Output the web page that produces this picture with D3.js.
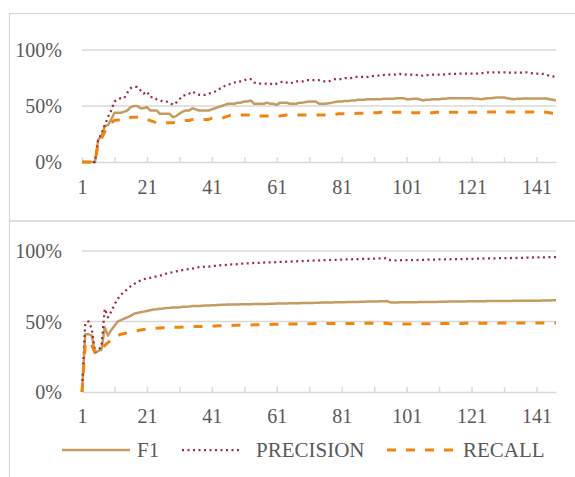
<!DOCTYPE html>
<html>
<head>
<meta charset="utf-8">
<script src="https://cdn.jsdelivr.net/npm/d3@7"></script>
<style>
  body { margin: 0; background: #fff; }
  svg text { font-family: "Liberation Serif", "Times New Roman", serif; }
</style>
</head>
<body>
<svg id="chart" width="575" height="477"></svg>
<script>
/*
Two stacked line charts: F1 / PRECISION / RECALL against rank
*/

// Categories 1..147 on the x axis
var categories = d3.range(1, 148);
var tickMarks = [1, 11, 21, 31, 41, 51, 61, 71, 81, 91, 101, 111, 121, 131, 141];
var tickLabels = [1, 21, 41, 61, 81, 101, 121, 141];
var yTicks = [0, 0.5, 1];
var seriesNames = ["F1", "PRECISION", "RECALL"];

// Top chart
var topF1 = [
  0, 0, 0, 0, 0,
  0.20, 0.23, 0.32, 0.33, 0.38,  0.44, 0.44, 0.44, 0.45, 0.46,
  0.49, 0.50, 0.50, 0.48, 0.48,  0.49, 0.46, 0.46, 0.46, 0.43,
  0.43, 0.43, 0.43, 0.40, 0.41,  0.43, 0.45, 0.46, 0.46, 0.48,
  0.47, 0.46, 0.46, 0.46, 0.46,  0.47, 0.48, 0.49, 0.50, 0.51,
  0.52, 0.52, 0.52, 0.53, 0.53,  0.54, 0.54, 0.55, 0.52, 0.52,
  0.52, 0.52, 0.53, 0.52, 0.52,  0.51, 0.53, 0.53, 0.53, 0.52,
  0.52, 0.52, 0.53, 0.53, 0.535, 0.54, 0.54, 0.54, 0.52, 0.52,
  0.52, 0.525, 0.53, 0.535, 0.54, 0.54, 0.545, 0.545, 0.55, 0.55,
  0.555, 0.555, 0.555, 0.56, 0.56, 0.56, 0.56, 0.56, 0.565, 0.565,
  0.565, 0.565, 0.57, 0.57, 0.57, 0.56, 0.56, 0.565, 0.565, 0.56,
  0.55, 0.555, 0.555, 0.56, 0.56, 0.56, 0.565, 0.565, 0.57, 0.57,
  0.57, 0.57, 0.57, 0.57, 0.57,  0.57, 0.565, 0.565, 0.56, 0.565,
  0.57, 0.57, 0.574, 0.575, 0.575, 0.575, 0.57, 0.565, 0.56, 0.565,
  0.565, 0.567, 0.567, 0.567, 0.567, 0.567, 0.567, 0.567, 0.567, 0.56,
  0.555, 0.55
];
var topPrecision = [
  0, 0, 0, 0, 0,
  0.20, 0.25, 0.33, 0.40, 0.46,  0.54, 0.56, 0.57, 0.57, 0.62,
  0.66, 0.67, 0.67, 0.64, 0.61,  0.63, 0.58, 0.58, 0.56, 0.55,
  0.54, 0.54, 0.53, 0.51, 0.53,  0.56, 0.59, 0.60, 0.61, 0.63,
  0.61, 0.60, 0.60, 0.60, 0.61,  0.62, 0.63, 0.65, 0.66, 0.68,
  0.69, 0.70, 0.71, 0.72, 0.72,  0.73, 0.74, 0.74, 0.71, 0.70,
  0.70, 0.70, 0.70, 0.70, 0.69,  0.70, 0.71, 0.72, 0.71, 0.70,
  0.71, 0.72, 0.72, 0.72, 0.73,  0.73, 0.73, 0.73, 0.73, 0.72,
  0.72, 0.72, 0.73, 0.74, 0.74,  0.74, 0.75, 0.75, 0.75, 0.76,
  0.76, 0.76, 0.76, 0.76, 0.765, 0.77, 0.77, 0.775, 0.777, 0.78,
  0.78, 0.78, 0.78, 0.786, 0.785, 0.78, 0.78, 0.78, 0.777, 0.775,
  0.77, 0.775, 0.777, 0.78, 0.78, 0.78, 0.78, 0.783, 0.786, 0.786,
  0.786, 0.788, 0.79, 0.788, 0.788, 0.79, 0.79, 0.79, 0.793, 0.795,
  0.80, 0.80, 0.80, 0.80, 0.80,  0.80, 0.80, 0.797, 0.797, 0.797,
  0.797, 0.80, 0.80, 0.795, 0.79, 0.79, 0.79, 0.786, 0.78, 0.77,
  0.765, 0.76
];
var topRecall = [
  0, 0, 0, 0, 0,
  0.17, 0.21, 0.27, 0.33, 0.35,  0.37, 0.375, 0.375, 0.375, 0.38,
  0.40, 0.40, 0.40, 0.39, 0.39,  0.38, 0.37, 0.36, 0.35, 0.35,
  0.35, 0.35, 0.35, 0.35, 0.36,  0.36, 0.37, 0.37, 0.37, 0.38,
  0.38, 0.38, 0.38, 0.38, 0.38,  0.39, 0.39, 0.39, 0.39, 0.40,
  0.41, 0.42, 0.42, 0.42, 0.42,  0.42, 0.42, 0.42, 0.41, 0.41,
  0.41, 0.41, 0.41, 0.41, 0.41,  0.41, 0.41, 0.415, 0.42, 0.42,
  0.42, 0.42, 0.42, 0.42, 0.42,  0.42, 0.42, 0.42, 0.42, 0.42,
  0.42, 0.42, 0.42, 0.425, 0.43, 0.43, 0.43, 0.43, 0.43, 0.432,
  0.435, 0.435, 0.435, 0.435, 0.435, 0.44, 0.44, 0.445, 0.445, 0.445,
  0.445, 0.445, 0.445, 0.445, 0.445, 0.445, 0.445, 0.44, 0.44, 0.44,
  0.435, 0.44, 0.44, 0.44, 0.445, 0.445, 0.445, 0.445, 0.445, 0.445,
  0.445, 0.445, 0.445, 0.445, 0.445, 0.445, 0.445, 0.445, 0.445, 0.445,
  0.447, 0.447, 0.447, 0.447, 0.447, 0.447, 0.447, 0.447, 0.447, 0.447,
  0.447, 0.447, 0.447, 0.447, 0.447, 0.447, 0.447, 0.447, 0.445, 0.44,
  0.435, 0.435
];

// Bottom chart
var bottomF1 = [
  0, 0.41, 0.41, 0.40, 0.28,
  0.29, 0.30, 0.46, 0.40, 0.44,  0.47, 0.50, 0.51, 0.52, 0.53,
  0.54, 0.555, 0.56, 0.565, 0.57, 0.575, 0.58, 0.585, 0.587, 0.59,
  0.592, 0.595, 0.597, 0.60, 0.60, 0.60, 0.605, 0.605, 0.607, 0.61,
  0.61, 0.61, 0.612, 0.613, 0.614, 0.615, 0.616, 0.617, 0.618, 0.619,
  0.62, 0.62, 0.621, 0.621, 0.622, 0.622, 0.623, 0.623, 0.624, 0.624,
  0.625, 0.625, 0.625, 0.626, 0.626, 0.627, 0.627, 0.628, 0.628, 0.629,
  0.629, 0.63, 0.63, 0.631, 0.631, 0.632, 0.632, 0.633, 0.633, 0.634,
  0.634, 0.635, 0.635, 0.636, 0.636, 0.637, 0.637, 0.638, 0.638, 0.639,
  0.639, 0.64, 0.64, 0.641, 0.641, 0.642, 0.642, 0.643, 0.644, 0.645,
  0.635, 0.635, 0.635, 0.636, 0.636, 0.636, 0.637, 0.637, 0.637, 0.638,
  0.638, 0.638, 0.639, 0.639, 0.639, 0.64, 0.64, 0.64, 0.641, 0.641,
  0.641, 0.642, 0.642, 0.642, 0.643, 0.643, 0.643, 0.644, 0.644, 0.644,
  0.645, 0.645, 0.645, 0.645, 0.646, 0.646, 0.646, 0.646, 0.647, 0.647,
  0.647, 0.647, 0.648, 0.648, 0.648, 0.648, 0.648, 0.649, 0.649, 0.649,
  0.65, 0.65
];
var bottomPrecision = [
  0, 0.49, 0.50, 0.45, 0.28,
  0.30, 0.32, 0.59, 0.53, 0.57,  0.62, 0.66, 0.69, 0.71, 0.73,
  0.75, 0.765, 0.78, 0.79, 0.80, 0.805, 0.81, 0.815, 0.82, 0.825,
  0.83, 0.84, 0.845, 0.85, 0.855, 0.86, 0.865, 0.87, 0.872, 0.875,
  0.88, 0.885, 0.887, 0.89, 0.89, 0.892, 0.895, 0.897, 0.90, 0.90,
  0.902, 0.905, 0.905, 0.907, 0.91, 0.91, 0.912, 0.913, 0.915, 0.915,
  0.917, 0.918, 0.92, 0.92, 0.92, 0.921, 0.922, 0.923, 0.924, 0.925,
  0.926, 0.927, 0.928, 0.929, 0.93, 0.931, 0.932, 0.933, 0.934, 0.934,
  0.935, 0.936, 0.937, 0.937, 0.938, 0.939, 0.94, 0.94, 0.941, 0.942,
  0.943, 0.943, 0.944, 0.945, 0.945, 0.946, 0.947, 0.948, 0.948, 0.949,
  0.935, 0.934, 0.934, 0.934, 0.935, 0.935, 0.935, 0.936, 0.936, 0.937,
  0.937, 0.938, 0.938, 0.939, 0.939, 0.94, 0.94, 0.941, 0.941, 0.942,
  0.942, 0.943, 0.943, 0.944, 0.944, 0.945, 0.945, 0.946, 0.946, 0.947,
  0.947, 0.948, 0.948, 0.949, 0.949, 0.95, 0.95, 0.95, 0.951, 0.951,
  0.952, 0.952, 0.953, 0.953, 0.954, 0.954, 0.955, 0.955, 0.956, 0.956,
  0.957, 0.957
];
var bottomRecall = [
  0, 0.34, 0.36, 0.33, 0.28,
  0.29, 0.30, 0.33, 0.35, 0.37,  0.39, 0.40, 0.41, 0.415, 0.42,
  0.425, 0.43, 0.435, 0.44, 0.443, 0.446, 0.448, 0.45, 0.452, 0.454,
  0.455, 0.456, 0.457, 0.458, 0.46, 0.46, 0.461, 0.462, 0.463, 0.463,
  0.464, 0.465, 0.465, 0.466, 0.466, 0.467, 0.468, 0.469, 0.47, 0.47,
  0.471, 0.472, 0.473, 0.474, 0.475, 0.475, 0.476, 0.476, 0.477, 0.477,
  0.478, 0.478, 0.479, 0.479, 0.48, 0.48, 0.481, 0.481, 0.482, 0.482,
  0.483, 0.483, 0.483, 0.484, 0.484, 0.484, 0.484, 0.485, 0.485, 0.485,
  0.485, 0.485, 0.485, 0.486, 0.486, 0.486, 0.486, 0.486, 0.486, 0.486,
  0.487, 0.487, 0.487, 0.487, 0.487, 0.487, 0.487, 0.487, 0.487, 0.487,
  0.482, 0.482, 0.482, 0.482, 0.483, 0.483, 0.483, 0.483, 0.484, 0.484,
  0.484, 0.484, 0.484, 0.485, 0.485, 0.485, 0.485, 0.485, 0.486, 0.486,
  0.486, 0.486, 0.486, 0.487, 0.487, 0.487, 0.487, 0.487, 0.488, 0.488,
  0.488, 0.488, 0.488, 0.488, 0.489, 0.489, 0.489, 0.489, 0.489, 0.489,
  0.49, 0.49, 0.49, 0.49, 0.49, 0.49, 0.49, 0.49, 0.49, 0.49,
  0.49, 0.49
];

// Line styles, same order as seriesNames
var seriesStyle = [
  { "stroke": "#c59b62", "width": 2.5, "dash": null },
  { "stroke": "#a3283c", "width": 2.25, "dash": "2,3.5" },
  { "stroke": "#f2850f", "width": 3, "dash": "9,10" }
];

var gridColor = "#d9d9d9";
var textColor = "#595959";

var svg = d3.select("#chart");

// Chart frames
svg.append("rect")
  .attr("x", 9.5).attr("y", 13.5)
  .attr("width", 620).attr("height", 207.5)
  .style("fill", "none")
  .style("stroke", gridColor)
  .style("stroke-width", 1.25)
  ;
svg.append("rect")
  .attr("x", 9.5).attr("y", 221)
  .attr("width", 620).attr("height", 300)
  .style("fill", "none")
  .style("stroke", gridColor)
  .style("stroke-width", 1.25)
  ;

drawPanel({ "x0": 82, "x1": 556, "y0": 162, "y1": 50, "labelY": 32 },
  [topF1, topPrecision, topRecall]);
drawPanel({ "x0": 82, "x1": 556, "y0": 392, "y1": 251, "labelY": 31 },
  [bottomF1, bottomPrecision, bottomRecall]);

drawLegend(450);

function drawPanel(o, series) {
  var x = d3.scalePoint().domain(categories).range([o.x0, o.x1]);
  var y = d3.scaleLinear().domain([0, 1]).range([o.y0, o.y1]);

  var g = svg.append("g");

  // Gridlines (0% is the axis line)
  g.append("g").selectAll("line")
    .data(yTicks.filter(function(d) { return d > 0; }))
    .enter().append("line")
      .attr("x1", o.x0).attr("x2", o.x1)
      .attr("y1", function(d) { return y(d); })
      .attr("y2", function(d) { return y(d); })
      .style("stroke", gridColor)
      .style("stroke-width", 1.5)
      ;

  // Y labels
  var gy = g.append("g")
    .attr("transform", translate(o.x0, 0))
    .call(d3.axisLeft(y).tickValues(yTicks).tickFormat(d3.format(".0%")).tickSize(0).tickPadding(20))
    .attr("font-family", null)
    .attr("font-size", null)
    ;
  gy.select(".domain").remove();
  gy.selectAll("text")
    .attr("dy", "0.33em")
    .style("font-size", "20px")
    .style("fill", textColor)
    ;

  // X axis, ticks point up into the plot
  var gx = g.append("g")
    .attr("transform", translate(0, o.y0))
    .call(d3.axisBottom(x).tickValues(tickMarks)
      .tickFormat(function(d) { return tickLabels.indexOf(d) >= 0 ? d : ""; })
      .tickSizeInner(-5).tickSizeOuter(0))
    .attr("font-family", null)
    .attr("font-size", null)
    ;
  gx.select(".domain").style("stroke", gridColor).style("stroke-width", 1.5);
  gx.selectAll(".tick line").style("stroke", gridColor).style("stroke-width", 1.5);
  gx.selectAll("text")
    .attr("y", o.labelY)
    .attr("dy", 0)
    .style("font-size", "20px")
    .style("fill", textColor)
    ;

  // Series
  var line = d3.line()
    .x(function(d, i) { return x(categories[i]); })
    .y(function(d) { return y(d); })
    ;

  g.append("g").selectAll("path")
    .data(series)
    .enter().append("path")
      .attr("d", line)
      .style("fill", "none")
      .style("stroke", function(d, i) { return seriesStyle[i].stroke; })
      .style("stroke-width", function(d, i) { return seriesStyle[i].width; })
      .style("stroke-dasharray", function(d, i) { return seriesStyle[i].dash; })
      .style("stroke-linejoin", "round")
      ;
}

function drawLegend(ly) {
  var items = [
    { "x1": 62, "x2": 130, "tx": 137 },
    { "x1": 182, "x2": 242, "tx": 256 },
    { "x1": 387, "x2": 453, "tx": 463 }
  ];

  var g = svg.append("g").attr("class", "legend");

  var item = g.selectAll("g.item")
    .data(seriesNames)
    .enter().append("g")
      .attr("class", "item")
      ;

  item.append("line")
    .attr("x1", function(d, i) { return items[i].x1; })
    .attr("x2", function(d, i) { return items[i].x2; })
    .attr("y1", ly).attr("y2", ly)
    .style("stroke", function(d, i) { return seriesStyle[i].stroke; })
    .style("stroke-width", function(d, i) { return seriesStyle[i].width; })
    .style("stroke-dasharray", function(d, i) { return seriesStyle[i].dash; })
    ;

  item.append("text")
    .attr("x", function(d, i) { return items[i].tx; })
    .attr("y", ly)
    .attr("dy", "0.33em")
    .style("font-size", "21px")
    .style("fill", textColor)
    .text(function(d) { return d; })
    ;
}

function translate(x, y) {
  return "translate(" + x + " " + y + ")";
}
</script>
</body>
</html>
